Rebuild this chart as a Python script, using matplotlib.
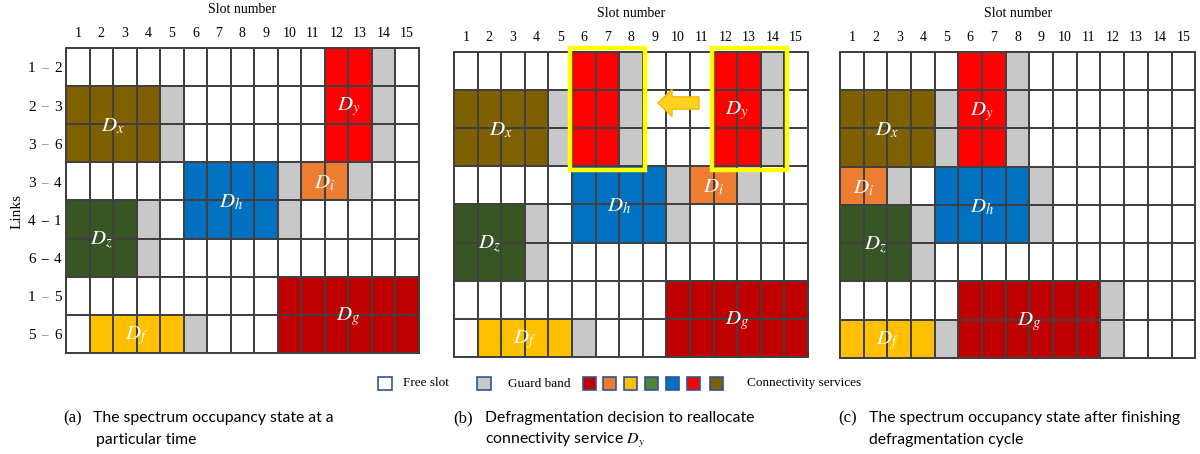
import matplotlib.pyplot as plt
import numpy as np
from matplotlib.colors import ListedColormap
from matplotlib.patches import Rectangle, FancyArrow

plt.rcParams['mathtext.fontset'] = 'stix'

# rows of the grid (links) and columns (slots)
link_from = [1, 2, 3, 3, 4, 6, 1, 5]
link_to = [2, 3, 6, 4, 1, 4, 5, 6]
dash_purple = [True, True, True, True, False, False, True, True]
slots = list(range(1, 16))

# service colours
service_color = {"x": "#7F6000", "y": "#FF0000", "h": "#0070C0", "i": "#ED7D31",
                 "z": "#375623", "g": "#C00000", "f": "#FFC000"}
legend_colors = ["#C00000", "#ED7D31", "#FFC000", "#548235", "#0070C0", "#FF0000", "#7F6000"]

# services: name -> (first row, last row, first slot, last slot)
a_services = {"x": (1, 2, 1, 4), "y": (0, 2, 12, 13), "h": (3, 4, 6, 9), "i": (3, 3, 11, 12),
              "z": (4, 5, 1, 3), "g": (6, 7, 10, 15), "f": (7, 7, 2, 5)}
a_guard = [(1, 2, 5), (0, 2, 14), (3, 4, 10), (3, 3, 13), (4, 5, 4), (7, 7, 6)]

# (b): same as (a) plus the new place for D_y
b_new_y = (0, 2, 6, 7)
b_new_guard = (0, 2, 8)

c_services = {"x": (1, 2, 1, 4), "y": (0, 2, 6, 7), "h": (3, 4, 5, 8), "i": (3, 3, 1, 2),
              "z": (4, 5, 1, 3), "g": (6, 7, 6, 11), "f": (7, 7, 1, 4)}
c_guard = [(1, 2, 5), (0, 2, 8), (3, 4, 9), (3, 3, 3), (4, 5, 4), (6, 7, 12), (7, 7, 5)]

names = list(service_color.keys())
cmap = ListedColormap(["white", "#C8C8C8"] + [service_color[n] for n in names])


def fill(grid, blk, value):
    r0, r1, s0, s1 = blk
    grid[r0:r1 + 1, s0 - 1:s1] = value


def draw_panel(ax, services, guards, extra=None, extra_guard=None):
    grid = np.zeros((len(link_from), len(slots)))
    for r0, r1, s in guards:
        grid[r0:r1 + 1, s - 1] = 1
    if extra is not None:
        fill(grid, extra, 2 + names.index("y"))
        grid[extra_guard[0]:extra_guard[1] + 1, extra_guard[2] - 1] = 1
    for n, blk in services.items():
        fill(grid, blk, 2 + names.index(n))
    xe = np.arange(0.5, len(slots) + 1)
    ye = np.arange(-0.5, len(link_from))
    ax.pcolormesh(xe, ye, grid, cmap=cmap, vmin=0, vmax=len(names) + 1,
                  edgecolors="#404040", linewidth=1.2, clip_on=False)
    for n, (r0, r1, s0, s1) in services.items():
        ax.text((s0 + s1) / 2, (r0 + r1) / 2 + 0.05, "$D_%s$" % n, color="white",
                fontsize=15, ha="center", va="center")
    ax.set_xlim(0.5, 15.5)
    ax.set_ylim(7.5, -0.5)
    ax.xaxis.tick_top()
    ax.set_xticks(slots)
    ax.set_xticklabels(slots, family="Liberation Serif", fontsize=10)
    ax.tick_params(length=0, pad=6)
    ax.set_yticks([])
    ax.set_xlabel("Slot number", family="Liberation Serif", fontsize=10, labelpad=10)
    ax.xaxis.set_label_position("top")
    for sp in ax.spines.values():
        sp.set_color("#404040")
        sp.set_linewidth(1.2)


fig = plt.figure(figsize=(12, 4.54), dpi=100)
ax_a = fig.add_axes([0.055, 0.2225, 0.294, 0.672])
ax_b = fig.add_axes([0.3783, 0.2137, 0.295, 0.672])
ax_c = fig.add_axes([0.7, 0.2115, 0.296, 0.674])

draw_panel(ax_a, a_services, a_guard)
draw_panel(ax_b, a_services, a_guard, b_new_y, b_new_guard)
draw_panel(ax_c, c_services, c_guard)

# row labels on panel (a)
for r in range(len(link_from)):
    ax_a.text(-0.95, r + 0.05, str(link_from[r]), ha="center", va="center",
              family="Liberation Serif", fontsize=11, clip_on=False)
    ax_a.text(-0.4, r + 0.05, "\u2212", ha="center", va="center", fontsize=11,
              family="Liberation Serif",
              color="#9B7FCF" if dash_purple[r] else "black", clip_on=False)
    ax_a.text(0.15, r + 0.05, str(link_to[r]), ha="center", va="center",
              family="Liberation Serif", fontsize=11, clip_on=False)
ax_a.text(-1.6, 3.8, "Links", rotation=90, ha="center", va="center",
          family="Liberation Serif", fontsize=11, clip_on=False)

# yellow boxes and arrow on panel (b)
for s0 in (6, 12):
    ax_b.add_patch(Rectangle((s0 - 0.57, -0.6), 3.17, 3.2, fill=False,
                             edgecolor="#FFFF00", linewidth=3.2, clip_on=False, zorder=5))
ax_b.add_patch(FancyArrow(10.88, 0.84, -1.74, 0, width=0.32, head_width=0.7,
                          head_length=0.6, length_includes_head=True,
                          facecolor="#FFD21F", edgecolor="#F5B800", linewidth=1, zorder=6))

# legend (pixel coordinates)
leg = fig.add_axes([0, 0, 1, 1], zorder=-1)
leg.set_xlim(0, 1200)
leg.set_ylim(454, 0)
leg.axis("off")
leg.add_patch(Rectangle((378, 377), 14, 13, facecolor="white", edgecolor="#2F5597", lw=1.2))
leg.text(403, 383, "Free slot", va="center", family="Liberation Serif", fontsize=9.5)
leg.add_patch(Rectangle((477, 377), 14, 13, facecolor="#C8C8C8", edgecolor="#2F5597", lw=1.2))
leg.text(508, 384, "Guard band", va="center", family="Liberation Serif", fontsize=9.5)
for k, col in enumerate(legend_colors):
    x0 = [583, 603, 624, 645, 666, 687, 710][k]
    leg.add_patch(Rectangle((x0, 377), 13, 13, facecolor=col, edgecolor="#2F5597", lw=1.2))
leg.text(747, 383, "Connectivity services", va="center", family="Liberation Serif", fontsize=9.5)

# captions
cap_font = "Lato"
cs = 11.3
fig.text(63 / 1200, 1 - 418 / 454, "(a)", family="Liberation Serif", fontsize=12, va="center")
fig.text(93 / 1200, 1 - 418 / 454, "The spectrum occupancy state at a", family=cap_font, fontsize=cs, va="center")
fig.text(96 / 1200, 1 - 440 / 454, "particular time", family=cap_font, fontsize=cs, va="center")
fig.text(453 / 1200, 1 - 418 / 454, "(b)", family="Liberation Serif", fontsize=12, va="center")
fig.text(485 / 1200, 1 - 418 / 454, "Defragmentation decision to reallocate", family=cap_font, fontsize=cs, va="center")
fig.text(485 / 1200, 1 - 440 / 454, "connectivity service $D_y$", family=cap_font, fontsize=cs, va="center")
fig.text(838 / 1200, 1 - 418 / 454, "(c)", family="Liberation Serif", fontsize=12, va="center")
fig.text(869 / 1200, 1 - 418 / 454, "The spectrum occupancy state after finishing", family=cap_font, fontsize=cs, va="center")
fig.text(869 / 1200, 1 - 440 / 454, "defragmentation cycle", family=cap_font, fontsize=cs, va="center")

plt.savefig("out.png", dpi=100)
